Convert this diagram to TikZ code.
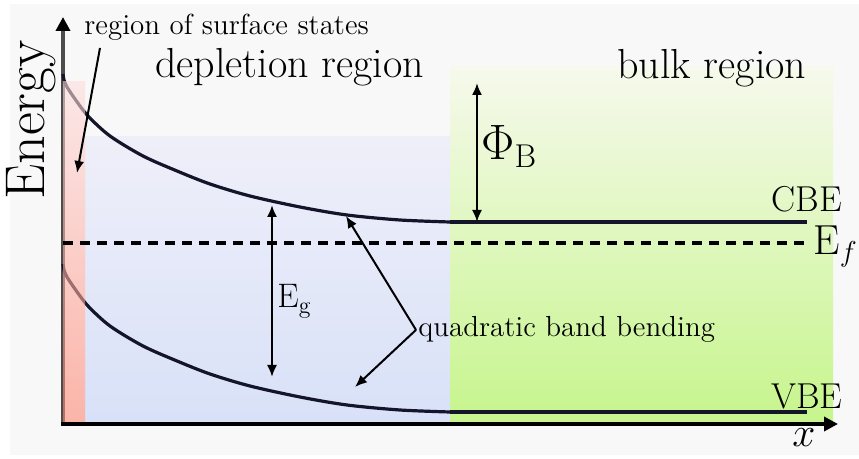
\documentclass[tikz,border=0pt]{standalone}
\usepackage{fontspec}
\usetikzlibrary{arrows.meta}

\definecolor{bgcol}{HTML}{F8F8F8}
\definecolor{curvecol}{HTML}{14142A}
\definecolor{redtop}{HTML}{FDDDDD}
\definecolor{redbot}{HTML}{FD8773}
\definecolor{bluetop}{HTML}{EFEFF9}
\definecolor{bluemid}{HTML}{E3E3F5}
\definecolor{bluebot}{HTML}{D8E1F8}
\definecolor{greentop}{HTML}{F6F9EC}
\definecolor{greenmid}{HTML}{E0F7C2}
\definecolor{greenbot}{HTML}{C6F58C}

\begin{document}
\begin{tikzpicture}[x=0.5pt,y=-0.5pt,
  band/.style={line width=1.6pt, draw=curvecol},
  axis/.style={line width=2.2pt, -{Triangle[length=7pt,width=7pt]}},
  ptr/.style={line width=1pt, -{Latex[length=6pt,width=5pt]}},
  dim/.style={line width=1pt, {Latex[length=6pt,width=5pt]}-{Latex[length=6pt,width=5pt]}},
  fermi/.style={line width=2pt, dash pattern=on 5pt off 3.5pt},
  lbl/.style={inner sep=0pt},
  smalltxt/.style={lbl, font=\fontsize{14.5}{16}\selectfont},
  midtxt/.style={lbl, font=\fontsize{18}{20}\selectfont},
  bigtxt/.style={lbl, font=\fontsize{21}{24}\selectfont}]
  \useasboundingbox (0,0) rectangle (859,459);
  \fill[bgcol] (10,4) rectangle (859,455);

  % depletion and bulk regions
  \shade[top color=bluetop, middle color=bluemid, bottom color=bluebot] (85,137) rectangle (450,424);
  \shade[top color=greentop, middle color=greenmid, bottom color=greenbot] (450,67) rectangle (833,424);

  \draw[axis, black!70, -{Triangle[length=7pt,width=7pt,color=black]}] (63,426) -- (63,17);

  % conduction and valence band edges
  \draw[band] plot[smooth] coordinates {(63,74) (64,80) (67,87) (75,99) (88,116) (110,136) (143,156)
    (177,171) (210,184) (250,196) (300,207) (347,215) (400,220) (450,222)};
  \draw[band, shift={(0,190)}] plot[smooth] coordinates {(63,74) (64,80) (67,87) (75,99) (88,116) (110,136) (143,156)
    (177,171) (210,184) (250,196) (300,207) (347,215) (400,220) (450,222)};
  \draw[band] (450,222) -- (807,222);
  \draw[band] (450,412) -- (807,412);

  % surface states
  \shade[top color=redtop, bottom color=redbot, opacity=0.6] (63,82) rectangle (85,424);

  \draw[fermi] (63,243) -- (805,243);
  \draw[axis] (61,424) -- (838,424);

  % labels
  \node[lbl, font=\fontsize{28}{30}\selectfont, rotate=90, anchor=base west] (energy) at (45,200) {Energy};
  \node[lbl, font=\fontsize{21}{24}\selectfont, anchor=base west] (xlbl) at (792,447) {$x$};
  \node[smalltxt, anchor=base west] (surf) at (84,35) {region of surface states};
  \node[bigtxt, anchor=base west] (depl) at (155,78) {depletion region};
  \node[bigtxt, anchor=base west] (bulk) at (617,79) {bulk region};
  \node[midtxt, anchor=base] (cbe) at (807,212) {CBE};
  \node[midtxt, anchor=base] (vbe) at (807,409) {VBE};
  \node[lbl, font=\fontsize{21}{24}\selectfont, anchor=base west] (ef) at (813,255) {E$_f$};
  \node[lbl, font=\fontsize{23}{26}\selectfont, anchor=base west] (phib) at (481,160)
    {$\Phi_{\mbox{\fontsize{16.5}{18}\selectfont B}}$};
  \node[lbl, font=\fontsize{17}{20}\selectfont, anchor=base west] (eg) at (277,308) {E$_\mathrm{g}$};
  \node[smalltxt, anchor=base west] (quad) at (418,337) {quadratic band bending};

  \coordinate (phitop) at (477,83);
  \coordinate (phibot) at (477,222);
  \coordinate (egtop) at (272,205);
  \coordinate (egbot) at (272,377);
  \coordinate (cbept) at (346,216);
  \coordinate (vbept) at (355,387);
  \coordinate (surfpt) at (77,173);

  \draw[dim] (phitop) -- (phibot);
  \draw[dim] (egtop) -- (egbot);
  \draw[ptr] ([xshift=-1pt]quad.west) -- (cbept);
  \draw[ptr] ([xshift=-1pt]quad.west) -- (vbept);
  \draw[ptr] ([xshift=8pt,yshift=-3.3pt]surf.south west) -- (surfpt);
\end{tikzpicture}
\end{document}
